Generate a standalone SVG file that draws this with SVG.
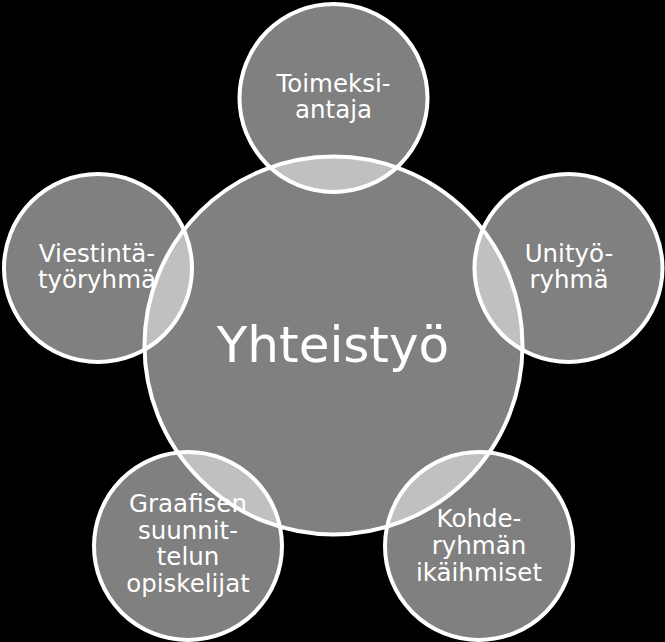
<svg xmlns="http://www.w3.org/2000/svg" width="665" height="642" viewBox="0 0 665 642">
  <style>
    .c { fill: #ffffff; fill-opacity: 0.5; stroke: #ffffff; stroke-width: 4; }
    .t { font-family: "DejaVu Sans", Verdana, sans-serif; font-size: 24.5px; fill: #ffffff; text-anchor: middle; }
    .big { font-size: 50px; }
  </style>
  <rect x="0" y="0" width="665" height="642" fill="#000000"/>
  <g id="connectors"></g>
  <g id="node-yhteistyo">
    <circle class="c" cx="333.5" cy="345.5" r="189"/>
    <text class="t big" x="333" y="362">Yhteistyö</text>
  </g>
  <g id="node-toimeksiantaja">
    <circle class="c" cx="333.5" cy="98" r="94"/>
    <text class="t" x="333.5" y="92"><tspan x="333.5" y="92">Toimeksi-</tspan><tspan x="333.5" y="118">antaja</tspan></text>
  </g>
  <g id="node-unityoryhma">
    <circle class="c" cx="568.5" cy="268" r="94"/>
    <text class="t" x="569" y="262"><tspan x="569" y="262">Unityö-</tspan><tspan x="569" y="288">ryhmä</tspan></text>
  </g>
  <g id="node-kohderyhma">
    <circle class="c" cx="479" cy="546" r="94"/>
    <text class="t" x="479" y="527"><tspan x="479" y="527">Kohde-</tspan><tspan x="479" y="554">ryhmän</tspan><tspan x="479" y="581">ikäihmiset</tspan></text>
  </g>
  <g id="node-graafisen">
    <circle class="c" cx="188" cy="546" r="94"/>
    <text class="t" x="188" y="512"><tspan x="188" y="512">Graafisen</tspan><tspan x="188" y="538.5">suunnit-</tspan><tspan x="188" y="565">telun</tspan><tspan x="188" y="591.5">opiskelijat</tspan></text>
  </g>
  <g id="node-viestinta">
    <circle class="c" cx="98" cy="268" r="94"/>
    <text class="t" x="97" y="262"><tspan x="97" y="262">Viestintä-</tspan><tspan x="97" y="288">työryhmä</tspan></text>
  </g>
</svg>
